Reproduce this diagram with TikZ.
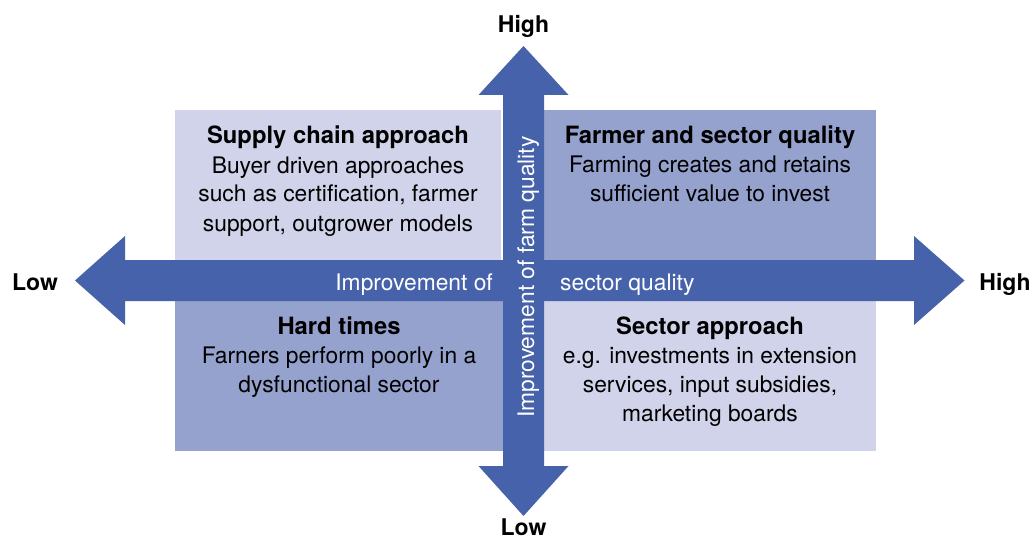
\documentclass[tikz,border=0pt]{standalone}
\usepackage{fontspec}
\setmainfont{TeX Gyre Heros}
\definecolor{axisblue}{RGB}{70,98,170}
\definecolor{lightq}{RGB}{208,211,233}
\definecolor{darkq}{RGB}{150,162,206}
\newcommand{\qtitle}[1]{{\fontsize{23.8}{29}\selectfont\bfseries #1}}
\tikzset{
  body/.style={font=\fontsize{22.8}{29}\selectfont, align=center, inner sep=0pt, text=black},
  endlab/.style={font=\fontsize{23}{28}\selectfont\bfseries, inner sep=0pt, text=black},
  axtext/.style={font=\fontsize{22.8}{28}\selectfont, inner sep=0pt, text=white},
}
\begin{document}
\begin{tikzpicture}[x=1pt,y=-1pt]
\useasboundingbox[fill=white] (0,0) rectangle (1032,537);
% quadrant boxes
\fill[lightq] (175,110) rectangle (501,281);
\fill[darkq] (544,110) rectangle (876,281);
\fill[darkq] (175,280) rectangle (503,451);
\fill[lightq] (544,280) rectangle (876,451);
% horizontal axis arrow
\fill[axisblue] (75,280.5) -- (125,236) -- (125,260) -- (914,260) -- (914,236)
  -- (964.5,280.5) -- (914,325) -- (914,301) -- (125,301) -- (125,325) -- cycle;
% vertical axis arrow
\fill[axisblue] (523.5,46) -- (568.5,95) -- (544,95) -- (544,466) -- (568.5,466)
  -- (523.5,516) -- (478.5,466) -- (503,466) -- (503,95) -- (478.5,95) -- cycle;
% quadrant texts (base anchor = baseline of last line)
\node[body, anchor=base] (tl) at (338,231) {\qtitle{Supply chain approach}\\Buyer driven approaches\\such as certification, farmer\\support, outgrower models};
\node[body, anchor=base] (tr) at (710,202) {\qtitle{Farmer and sector quality}\\Farming creates and retains\\sufficient value to invest};
\node[body, anchor=base] (bl) at (339,392) {\qtitle{Hard times}\\Farners perform poorly in a\\dysfunctional sector};
\node[body, anchor=base] (br) at (710,421) {\qtitle{Sector approach}\\e.g. investments in extension\\services, input subsidies,\\marketing boards};
% axis texts
\node[axtext, anchor=base east] (hx1) at (493,290) {Improvement of};
\node[axtext, anchor=base west] (hx2) at (560,290) {sector quality};
\node[axtext, anchor=base west, rotate=90] (vx) at (534,418) {Improvement of farm quality};
% end labels
\node[endlab, anchor=base] (vhigh) at (523.5,33) {High};
\node[endlab, anchor=base] (vlow) at (523.5,535) {Low};
\node[endlab, anchor=base] (hlow) at (35,290) {Low};
\node[endlab, anchor=base] (hhigh) at (1005,290) {High};
\end{tikzpicture}
\end{document}
